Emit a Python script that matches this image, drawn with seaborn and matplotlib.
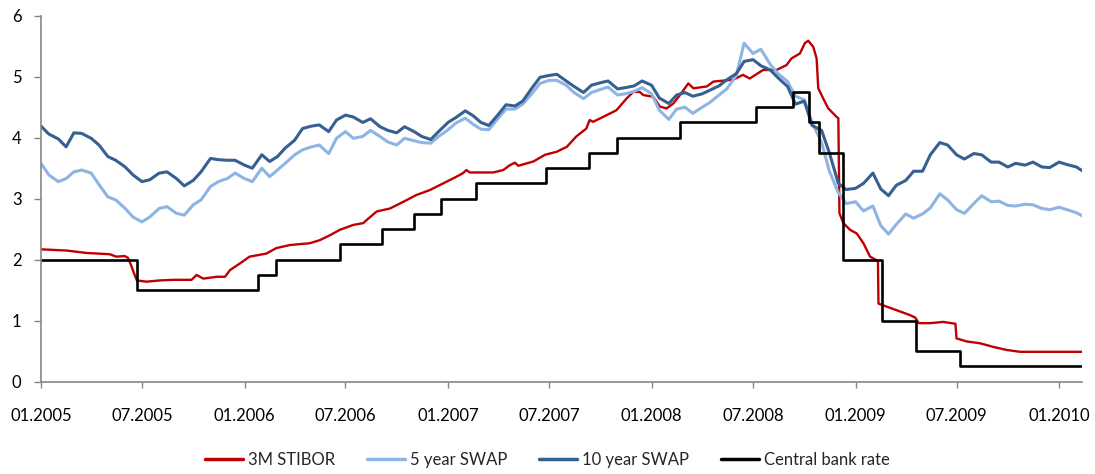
import matplotlib
matplotlib.use("Agg")
import matplotlib.pyplot as plt
import matplotlib.dates as mdates
import numpy as np
import pandas as pd
import seaborn as sns

# ---- data -------------------------------------------------------------
# Swap rates sampled on the 1st and 15th of each month, plus the last fixing
swap_dates = list(pd.date_range("2005-01-01", "2010-02-01", freq="SMS")) + [pd.Timestamp("2010-02-11")]

swap_5y = [
    3.58, 3.39, 3.28, 3.33, 3.44, 3.47, 3.42, 3.23, 3.03, 2.98, 2.84, 2.70,   # 2005 H1
    2.62, 2.70, 2.84, 2.87, 2.76, 2.73, 2.90, 2.98, 3.20, 3.28, 3.33, 3.42,   # 2005 H2
    3.33, 3.28, 3.50, 3.36, 3.47, 3.58, 3.72, 3.80, 3.85, 3.88, 3.74, 3.99,   # 2006 H1
    4.10, 3.99, 4.02, 4.12, 4.02, 3.93, 3.88, 3.99, 3.95, 3.92, 3.91, 4.02,   # 2006 H2
    4.13, 4.24, 4.32, 4.22, 4.14, 4.13, 4.32, 4.47, 4.47, 4.55, 4.73, 4.89,   # 2007 H1
    4.94, 4.94, 4.86, 4.74, 4.64, 4.74, 4.79, 4.83, 4.70, 4.72, 4.76, 4.82,   # 2007 H2
    4.72, 4.45, 4.30, 4.47, 4.50, 4.40, 4.50, 4.58, 4.70, 4.80, 5.02, 5.55,   # 2008 H1
    5.38, 5.45, 5.20, 5.05, 4.92, 4.68, 4.62, 4.25, 3.92, 3.45, 3.10, 2.92,   # 2008 H2
    2.95, 2.80, 2.88, 2.56, 2.42, 2.58, 2.75, 2.68, 2.75, 2.85, 3.08, 2.98,   # 2009 H1
    2.82, 2.76, 2.92, 3.05, 2.95, 2.96, 2.89, 2.88, 2.91, 2.90, 2.84, 2.82,   # 2009 H2
    2.86, 2.82, 2.77, 2.72,                                                   # 2010
]

swap_10y = [
    4.19, 4.06, 3.98, 3.85, 4.08, 4.07, 3.99, 3.88, 3.69, 3.63, 3.52, 3.39,
    3.28, 3.31, 3.42, 3.44, 3.33, 3.21, 3.30, 3.44, 3.66, 3.64, 3.63, 3.63,
    3.55, 3.50, 3.72, 3.61, 3.69, 3.83, 3.96, 4.15, 4.19, 4.21, 4.10, 4.29,
    4.37, 4.34, 4.25, 4.31, 4.18, 4.12, 4.08, 4.18, 4.10, 4.02, 3.97, 4.10,
    4.25, 4.33, 4.44, 4.36, 4.25, 4.20, 4.38, 4.54, 4.52, 4.60, 4.82, 4.99,
    5.02, 5.04, 4.93, 4.84, 4.74, 4.86, 4.90, 4.93, 4.80, 4.82, 4.85, 4.93,
    4.86, 4.65, 4.56, 4.70, 4.74, 4.68, 4.72, 4.78, 4.85, 4.95, 5.05, 5.25,
    5.28, 5.18, 5.11, 4.98, 4.84, 4.55, 4.60, 4.20, 4.12, 3.75, 3.25, 3.15,
    3.17, 3.25, 3.42, 3.16, 3.05, 3.22, 3.30, 3.45, 3.45, 3.72, 3.92, 3.88,
    3.72, 3.65, 3.74, 3.72, 3.60, 3.60, 3.52, 3.58, 3.55, 3.60, 3.52, 3.51,
    3.60, 3.56, 3.52, 3.46,
]

stibor_dates = [
    "2005-01-01", "2005-02-16", "2005-03-24", "2005-05-04", "2005-05-16", "2005-05-31",
    "2005-06-06", "2005-06-12", "2005-06-18", "2005-06-22", "2005-07-09", "2005-08-02",
    "2005-08-26", "2005-09-28", "2005-10-07", "2005-10-19", "2005-11-12", "2005-11-27",
    "2005-12-06", "2005-12-24", "2006-01-10", "2006-02-09", "2006-02-27", "2006-03-23",
    "2006-04-28", "2006-05-16", "2006-06-03", "2006-06-21", "2006-07-15", "2006-08-02",
    "2006-08-08", "2006-08-26", "2006-09-19", "2006-10-13", "2006-11-05", "2006-11-29",
    "2006-12-23", "2007-01-16", "2007-01-28", "2007-02-03", "2007-02-09", "2007-03-23",
    "2007-04-10", "2007-04-22", "2007-05-01", "2007-05-07", "2007-06-03", "2007-06-24",
    "2007-07-15", "2007-08-02", "2007-08-19", "2007-09-06", "2007-09-12", "2007-09-18",
    "2007-10-06", "2007-10-30", "2007-11-17", "2007-11-29", "2007-12-11", "2007-12-17",
    "2008-01-04", "2008-01-16", "2008-01-28", "2008-02-09", "2008-02-21", "2008-03-07",
    "2008-03-16", "2008-04-09", "2008-04-21", "2008-05-02", "2008-05-26", "2008-06-13",
    "2008-06-25", "2008-07-19", "2008-08-12", "2008-08-30", "2008-09-08", "2008-09-23",
    "2008-10-02", "2008-10-08", "2008-10-17", "2008-10-23", "2008-10-26", "2008-11-04",
    "2008-11-13", "2008-11-28", "2008-12-01", "2008-12-03", "2008-12-10", "2008-12-22",
    "2009-01-03", "2009-01-15", "2009-01-27", "2009-02-08", "2009-02-10", "2009-02-11",
    "2009-02-26", "2009-03-22", "2009-04-09", "2009-04-18", "2009-04-24", "2009-05-15",
    "2009-06-07", "2009-06-29", "2009-07-01", "2009-07-19", "2009-08-12", "2009-09-05",
    "2009-09-29", "2009-10-23", "2010-02-11",
]
stibor_3m = [
    2.17, 2.15, 2.11, 2.09, 2.05, 2.06,
    2.03, 1.90, 1.75, 1.66, 1.64, 1.66,
    1.67, 1.67, 1.75, 1.69, 1.72, 1.72,
    1.83, 1.94, 2.05, 2.10, 2.19, 2.24,
    2.27, 2.32, 2.40, 2.49, 2.57, 2.60,
    2.65, 2.79, 2.84, 2.95, 3.06, 3.14,
    3.25, 3.36, 3.42, 3.47, 3.43, 3.43,
    3.47, 3.55, 3.59, 3.54, 3.61, 3.72,
    3.77, 3.85, 4.02, 4.15, 4.29, 4.26,
    4.34, 4.45, 4.64, 4.75, 4.75, 4.70,
    4.67, 4.51, 4.48, 4.56, 4.70, 4.89,
    4.81, 4.84, 4.92, 4.93, 4.95, 5.03,
    4.97, 5.11, 5.11, 5.19, 5.30, 5.38,
    5.55, 5.59, 5.49, 5.30, 4.81, 4.64,
    4.48, 4.34, 4.32, 2.76, 2.60, 2.49,
    2.43, 2.27, 2.05, 1.99, 1.98, 1.28,
    1.23, 1.15, 1.09, 1.05, 0.96, 0.96,
    0.98, 0.95, 0.71, 0.66, 0.63, 0.57,
    0.52, 0.49, 0.49,
]

# Riksbank repo rate: effective date of each change, held until the next one
cb_dates = [
    "2005-01-01", "2005-06-22", "2006-01-25", "2006-02-27", "2006-06-21", "2006-09-04",
    "2006-11-01", "2006-12-20", "2007-02-20", "2007-06-25", "2007-09-11", "2007-10-31",
    "2008-02-21", "2008-07-07", "2008-09-10", "2008-10-10", "2008-10-28", "2008-12-10",
    "2009-02-18", "2009-04-20", "2009-07-08", "2010-02-11",
]
cb_rate = [
    2.00, 1.50, 1.75, 2.00, 2.25, 2.50,
    2.75, 3.00, 3.25, 3.50, 3.75, 4.00,
    4.25, 4.50, 4.75, 4.25, 3.75, 2.00,
    1.00, 0.50, 0.25, 0.25,
]

series_names = ["3M STIBOR", "5 year SWAP", "10 year SWAP", "Central bank rate"]
series_colors = ["#C00000", "#8EB4E3", "#376092", "#000000"]

# ---- figure -----------------------------------------------------------
sns.set_theme(style="white")
plt.rcParams["font.family"] = ["Lato", "DejaVu Sans"]

fig = plt.figure(figsize=(10.95, 4.74), dpi=100)
ax = fig.add_axes([41 / 1095, 1 - 381.7 / 474, (1082 - 41) / 1095, (381.7 - 15.7) / 474])

stibor_df = pd.DataFrame({"date": pd.to_datetime(stibor_dates), "rate": stibor_3m})
swap_df = pd.DataFrame({"date": pd.to_datetime(swap_dates), "s5": swap_5y, "s10": swap_10y})
cb_df = pd.DataFrame({"date": pd.to_datetime(cb_dates), "rate": cb_rate})

sns.lineplot(data=stibor_df, x="date", y="rate", ax=ax, color=series_colors[0],
             linewidth=1.7, estimator=None, label=series_names[0])
sns.lineplot(data=swap_df, x="date", y="s5", ax=ax, color=series_colors[1],
             linewidth=2.2, estimator=None, label=series_names[1])
sns.lineplot(data=swap_df, x="date", y="s10", ax=ax, color=series_colors[2],
             linewidth=2.2, estimator=None, label=series_names[2])
sns.lineplot(data=cb_df, x="date", y="rate", ax=ax, color=series_colors[3],
             linewidth=1.9, estimator=None, drawstyle="steps-post", label=series_names[3])

ax.set_xlim(pd.Timestamp("2005-01-01"), pd.Timestamp("2010-02-11"))
ax.set_ylim(0, 6)
ax.set_yticks(range(0, 7))
ax.xaxis.set_major_locator(mdates.MonthLocator(bymonth=[1, 7]))
ax.xaxis.set_major_formatter(mdates.DateFormatter("%m.%Y"))
ax.set_xlabel("")
ax.set_ylabel("")

for side in ("top", "right"):
    ax.spines[side].set_visible(False)
for side in ("left", "bottom"):
    ax.spines[side].set_color("#868686")
    ax.spines[side].set_linewidth(1.2)

ax.tick_params(axis="y", which="major", direction="out", length=5, width=1,
               color="#868686", labelsize=12, labelcolor="black", pad=9, left=True)
ax.tick_params(axis="x", which="major", direction="out", length=4, width=1,
               color="#868686", labelsize=12, labelcolor="black", pad=15, bottom=True)

handles, labels = ax.get_legend_handles_labels()
ax.legend(handles, labels, loc="center", bbox_to_anchor=(0.5, 14 / 474),
          bbox_transform=fig.transFigure, ncol=4, frameon=False, fontsize=12,
          handlelength=2.3, handletextpad=0.3, columnspacing=1.9)
for line in ax.get_legend().get_lines():
    line.set_linewidth(2.5)

fig.savefig("out.png", dpi=100)
